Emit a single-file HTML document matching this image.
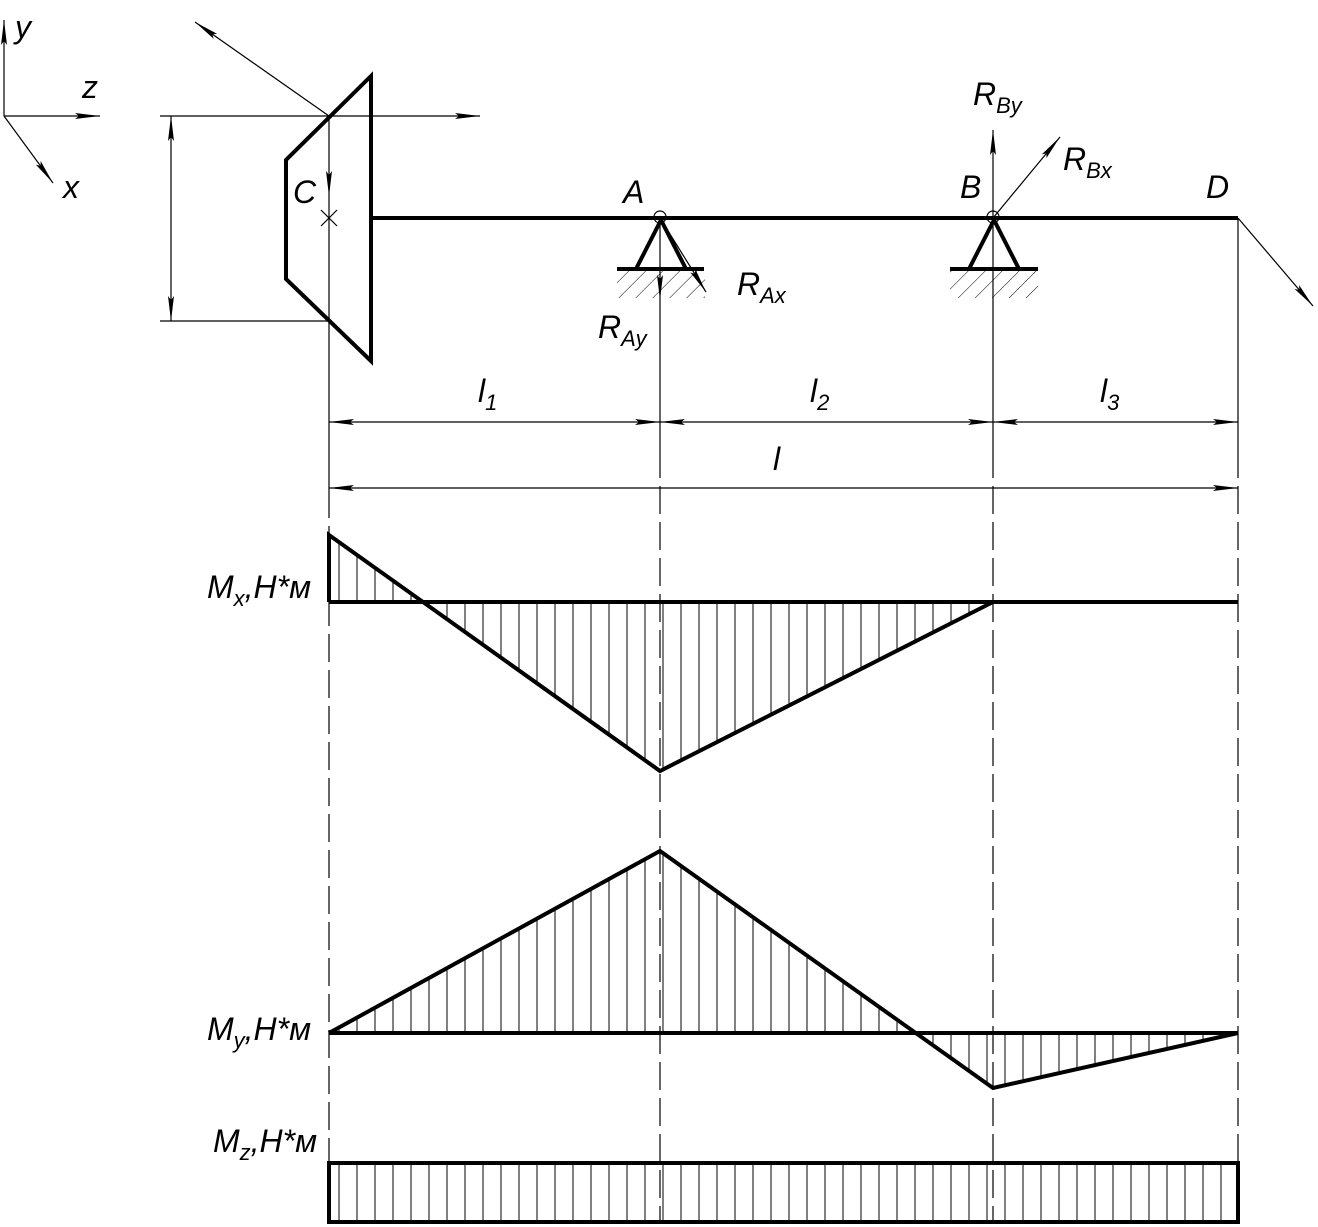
<!DOCTYPE html>
<html><head><meta charset="utf-8"><style>
html,body{margin:0;padding:0;background:#fff;}
svg{display:block;}
text{font-family:"Liberation Sans",sans-serif;font-style:italic;fill:#000;}
</style></head><body>
<svg width="1318" height="1227" viewBox="0 0 1318 1227" xmlns="http://www.w3.org/2000/svg">
<defs>
<marker id="ar" markerWidth="26" markerHeight="8" refX="25" refY="4" orient="auto" markerUnits="userSpaceOnUse">
<path d="M0,1 L25,4 L0,7 L4,4 Z" fill="#000"/>
</marker>
<marker id="as" markerWidth="26" markerHeight="8" refX="0" refY="4" orient="auto" markerUnits="userSpaceOnUse">
<path d="M25,1 L0,4 L25,7 L21,4 Z" fill="#000"/>
</marker>
<pattern id="hv" patternUnits="userSpaceOnUse" x="329" y="0" width="18" height="10">
<line x1="10" y1="0" x2="10" y2="10" stroke="#000" stroke-width="1"/>
</pattern>
<pattern id="hd" patternUnits="userSpaceOnUse" width="12" height="12" patternTransform="rotate(45)">
<line x1="0" y1="0" x2="0" y2="12" stroke="#000" stroke-width="1"/>
</pattern>
</defs>

<g stroke="#000" fill="none" stroke-width="1.2">
<!-- axes -->
<line x1="4" y1="116" x2="4" y2="20" marker-end="url(#ar)"/>
<line x1="4" y1="116" x2="100" y2="116" marker-end="url(#ar)"/>
<line x1="4" y1="116" x2="53" y2="183" marker-end="url(#ar)"/>
<!-- gear dims -->
<line x1="160" y1="116" x2="480" y2="116" marker-end="url(#ar)"/>
<line x1="160" y1="321" x2="329" y2="321"/>
<line x1="171" y1="116" x2="171" y2="321" marker-start="url(#as)" marker-end="url(#ar)"/>
<line x1="329" y1="116" x2="195" y2="22" marker-end="url(#ar)"/>
<line x1="329" y1="116" x2="329" y2="196" marker-end="url(#ar)"/>
<line x1="329" y1="196" x2="329" y2="490"/>
<line x1="321" y1="210" x2="337" y2="226"/><line x1="337" y1="210" x2="321" y2="226"/>
<!-- vertical extension lines -->
<line x1="660" y1="218" x2="660" y2="300" marker-end="url(#ar)"/>
<line x1="660" y1="300" x2="660" y2="450"/>
<line x1="993" y1="218" x2="993" y2="130" marker-end="url(#ar)"/>
<line x1="993" y1="218" x2="993" y2="450"/>
<line x1="1238" y1="218" x2="1238" y2="450"/>
<line x1="993" y1="218" x2="1060" y2="137" marker-end="url(#ar)"/>
<line x1="660" y1="218" x2="706" y2="292" marker-end="url(#ar)"/>
<line x1="1238" y1="218" x2="1313" y2="306" marker-end="url(#ar)"/>
<circle cx="660" cy="217" r="6"/><circle cx="993" cy="217" r="6"/>
<!-- dashed -->
<g stroke-dasharray="28,8">
<line x1="329" y1="490" x2="329" y2="1222"/>
<line x1="660" y1="450" x2="660" y2="1222"/>
<line x1="993" y1="450" x2="993" y2="1222"/>
<line x1="1238" y1="450" x2="1238" y2="1222"/>
</g>
<!-- dimension lines -->
<line x1="329" y1="422" x2="660" y2="422" marker-start="url(#as)" marker-end="url(#ar)"/>
<line x1="660" y1="422" x2="993" y2="422" marker-start="url(#as)" marker-end="url(#ar)"/>
<line x1="993" y1="422" x2="1238" y2="422" marker-start="url(#as)" marker-end="url(#ar)"/>
<line x1="329" y1="488" x2="1238" y2="488" marker-start="url(#as)" marker-end="url(#ar)"/>
</g>

<!-- supports hatching -->
<rect x="617" y="271" width="88" height="27" fill="url(#hd)"/>
<rect x="950" y="271" width="88" height="27" fill="url(#hd)"/>

<!-- thick -->
<g stroke="#000" fill="none" stroke-width="4">
<polygon points="371,76 286,160 286,279 371,361"/>
<line x1="371" y1="218" x2="1238" y2="218"/>
<polyline points="636,269 661,220 686,269"/>
<line x1="617" y1="269" x2="704" y2="269"/>
<polyline points="969,269 994,220 1019,269"/>
<line x1="950" y1="269" x2="1038" y2="269"/>
</g>

<!-- diagrams -->
<polygon points="329,535 329,602 422,602" fill="url(#hv)"/>
<polygon points="422,602 660,771 993,602" fill="url(#hv)"/>
<polygon points="329,1033 660,851 912,1033" fill="url(#hv)"/>
<polygon points="912,1033 993,1088 1238,1033" fill="url(#hv)"/>
<rect x="329" y="1163" width="909" height="59" fill="url(#hv)"/>
<g stroke="#000" fill="none" stroke-width="4">
<line x1="329" y1="602" x2="1238" y2="602"/>
<polyline points="329,602 329,535 660,771 993,602"/>
<line x1="329" y1="1033" x2="1238" y2="1033"/>
<polyline points="329,1033 660,851 993,1088 1238,1033"/>
<rect x="329" y="1163" width="909" height="59"/>
</g>

<!-- labels -->
<g font-size="32">
<text x="15" y="38">y</text>
<text x="82" y="98">z</text>
<text x="63" y="198">x</text>
<text x="293" y="203">C</text>
<text x="623" y="203">A</text>
<text x="960" y="198">B</text>
<text x="1206" y="198">D</text>
<text x="973" y="105">R<tspan font-size="22" dy="8">By</tspan></text>
<text x="1063" y="170">R<tspan font-size="22" dy="8">Bx</tspan></text>
<text x="737" y="295">R<tspan font-size="22" dy="8">Ax</tspan></text>
<text x="598" y="338">R<tspan font-size="22" dy="8">Ay</tspan></text>
<text x="478" y="402">l<tspan font-size="22" dy="8">1</tspan></text>
<text x="810" y="402">l<tspan font-size="22" dy="8">2</tspan></text>
<text x="1100" y="402">l<tspan font-size="22" dy="8">3</tspan></text>
<text x="773" y="470">l</text>
<text x="207" y="598">M<tspan font-size="22" dy="8">x</tspan><tspan dy="-8">,H*м</tspan></text>
<text x="207" y="1040">M<tspan font-size="22" dy="8">y</tspan><tspan dy="-8">,H*м</tspan></text>
<text x="213" y="1152">M<tspan font-size="22" dy="8">z</tspan><tspan dy="-8">,H*м</tspan></text>
</g>
</svg>
</body></html>
